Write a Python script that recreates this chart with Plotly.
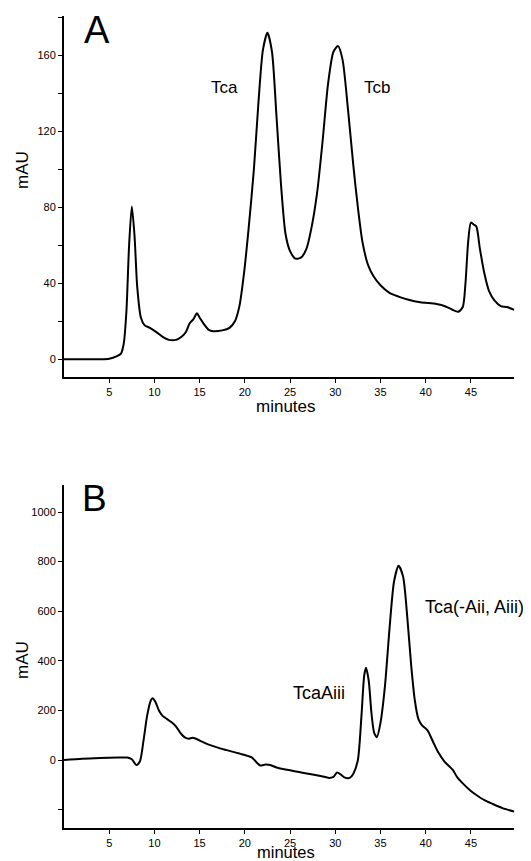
import plotly.graph_objects as go

# ---- Panel A data (minutes, mAU) ----
a_minutes = [0, 2, 4, 5, 5.8, 6.3, 6.6, 6.9, 7.2, 7.5, 7.8, 8.1, 8.5, 8.9, 9.5, 10.3, 11.0, 11.6,
             12.4, 13.0, 13.5, 13.9, 14.3, 14.7, 15.0, 15.4, 16.0, 16.5, 17.5, 18.3, 18.9, 19.4,
             19.9, 20.4, 21.0, 21.5, 22.0, 22.5, 23.0, 23.5, 24.0, 24.5, 25.0, 25.6, 26.2, 26.8,
             27.4, 28.0, 28.6, 29.2, 29.8, 30.3, 30.8, 31.4, 32.0, 32.5, 33.0, 33.6, 34.2, 35.0,
             36.0, 37.0, 38.0, 39.4, 41.2, 42.2, 42.9, 43.6, 44.1, 44.4, 44.7, 45.0, 45.3, 45.6,
             46.0, 46.5, 47.0, 47.6, 48.3, 49.0, 49.8]
a_mau = [0, 0, 0, 0.3, 1.5, 3, 8, 25, 60, 80.5, 65, 38, 22, 18, 16.5, 14, 11.5, 10.2,
         10.2, 11.8, 14.5, 19, 21, 24.2, 22, 19, 15.5, 14.8, 15.2, 16.5, 20, 28,
         45, 68, 100, 135, 163, 172, 162, 128, 92, 66, 57, 53, 53.5, 58,
         70, 88, 115, 145, 162, 165, 158, 132, 102, 80, 62, 50, 44, 39,
         35, 33, 31.5, 30, 29.1, 27.8, 26.2, 25, 27.5, 40, 62, 72, 71, 70,
         58, 45, 36, 31, 28, 27.5, 26]

# ---- Panel B data (minutes, mAU) ----
b_minutes = [0, 2, 4, 6, 7, 7.5, 8.0, 8.4, 8.8, 9.2, 9.6, 9.8, 10.1, 10.5, 10.9, 11.4, 11.9,
             12.4, 12.9, 13.4, 13.8, 14.2, 14.6, 15.2, 16.0, 17.0, 18.0, 19.0, 20.0, 20.8,
             21.3, 21.7, 22.3, 22.8, 23.5, 24.5, 25.5, 26.5, 27.5, 28.5, 29.3, 29.8, 30.2,
             30.6, 31.0, 31.6, 32.0, 32.5, 32.9, 33.2, 33.4, 33.7, 34.0, 34.3, 34.6, 35.0,
             35.5, 36.0, 36.5, 37.0, 37.5, 38.0, 38.4, 38.8, 39.2, 39.6, 40.2, 40.8, 41.4,
             42.1, 42.6, 43.0, 43.5, 44.1, 45.0, 45.6, 46.5, 47.4, 48.5, 49.8]
b_mau = [0, 5, 8, 10, 10, 3, -20, -5, 80, 180, 240, 249, 235, 200, 178, 165, 152,
         135, 108, 90, 86, 90, 86, 75, 62, 50, 40, 30, 20, 10,
         -10, -22, -18, -20, -30, -38, -45, -52, -58, -65, -72, -68, -50,
         -58, -70, -72, -55, 0, 180, 340, 372, 320, 190, 110, 92, 150,
         300, 530, 720, 783, 740, 560, 380, 240, 165, 140, 120, 75, 30,
         -7, -25, -40, -70, -94, -125, -141, -162, -177, -194, -208]

# ---- Axis ticks ----
x_tick_vals = [5, 10, 15, 20, 25, 30, 35, 40, 45]
x_tick_text = ["5", "10", "15", "20", "25", "30", "35", "40", "45"]
a_y_tick_vals = [0, 20, 40, 60, 80, 100, 120, 140, 160, 180]
a_y_tick_text = ["0", "", "40", "", "80", "", "120", "", "160", ""]
b_y_tick_vals = [-200, 0, 200, 400, 600, 800, 1000]
b_y_tick_text = ["", "0", "200", "400", "600", "800", "1000"]

OFF = 8  # page body margin
W, H = 531 - OFF, 861 - OFF
FONT = "Liberation Sans, Arial, sans-serif"

def px(x):
    return (x - OFF) / W

def py(y):
    return 1 - (y - OFF) / H

fig = go.Figure()
fig.add_trace(go.Scatter(x=a_minutes, y=a_mau, mode="lines", xaxis="x", yaxis="y",
                         line=dict(color="black", width=2, shape="spline", smoothing=0.7),
                         showlegend=False, hoverinfo="skip"))
fig.add_trace(go.Scatter(x=b_minutes, y=b_mau, mode="lines", xaxis="x2", yaxis="y2",
                         line=dict(color="black", width=2, shape="spline", smoothing=0.7),
                         showlegend=False, hoverinfo="skip"))

axis_common = dict(showline=True, linecolor="black", linewidth=2, showgrid=False,
                   zeroline=False, ticks="outside", ticklen=4, tickwidth=1,
                   tickcolor="black", tickfont=dict(family=FONT, size=11, color="black"),
                   automargin=False, fixedrange=True)

xdom = [px(64), px(514.3)]
fig.update_layout(
    width=W, height=H, margin=dict(l=0, r=0, t=0, b=0),
    paper_bgcolor="white", plot_bgcolor="white",
    font=dict(family=FONT, color="black"),
    xaxis=dict(domain=xdom, anchor="y", range=[0, 49.8], tickmode="array",
               tickvals=x_tick_vals, ticktext=x_tick_text, **axis_common),
    yaxis=dict(domain=[py(376.7), py(15.7)], anchor="x", range=[-9.2, 181],
               tickmode="array", tickvals=a_y_tick_vals, ticktext=a_y_tick_text,
               **axis_common),
    xaxis2=dict(domain=xdom, anchor="y2", range=[0, 49.8], tickmode="array",
                tickvals=x_tick_vals, ticktext=x_tick_text, **axis_common),
    yaxis2=dict(domain=[py(828), py(485)], anchor="x2", range=[-274, 1109],
                tickmode="array", tickvals=b_y_tick_vals, ticktext=b_y_tick_text,
                **axis_common),
)

ann = []
def add(text, x, y, size, xref, yref, angle=0):
    ann.append(dict(x=x, y=y, xref=xref, yref=yref, text=text, showarrow=False,
                    textangle=angle, xanchor="center", yanchor="middle",
                    font=dict(family=FONT, size=size, color="black")))

# Panel letters
add("A", 3.65, 173.5, 38, "x", "y")
add("B", 3.4, 1056, 37, "x2", "y2")
# Peak labels
add("Tca", 17.7, 143.2, 17, "x", "y")
add("Tcb", 34.6, 143.2, 17, "x", "y")
add("TcaAiii", 28.2, 270, 18, "x2", "y2")
add("Tca(-Aii, Aiii)", 45.4, 616, 18, "x2", "y2")
# Axis titles
for yc in (170, 660):
    add("mAU", px(22), py(yc), 17, "paper", "paper", angle=-90)
add("minutes", px(285.5), py(406), 17, "paper", "paper")
add("minutes", px(285.5), py(851.5), 16.5, "paper", "paper")
fig.update_layout(annotations=ann)

fig.write_html("out.html")
